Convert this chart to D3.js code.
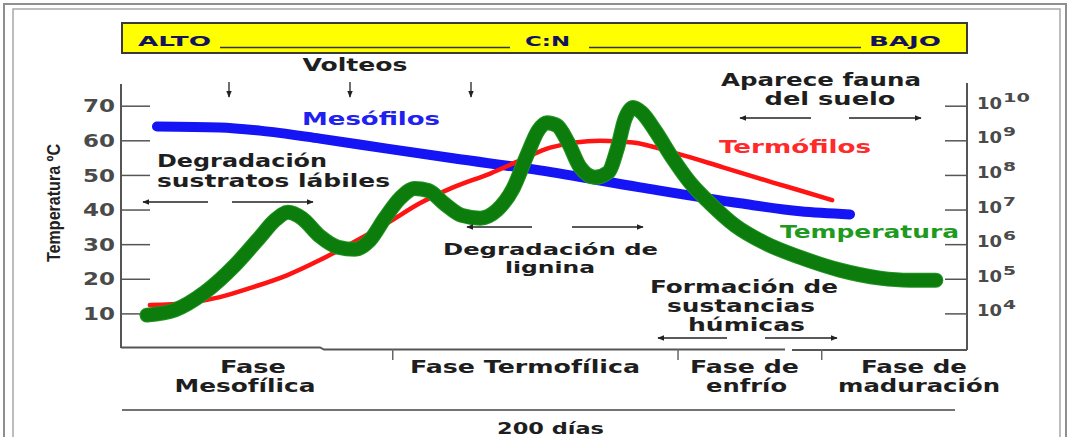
<!DOCTYPE html>
<html>
<head>
<meta charset="utf-8">
<script src="https://cdn.jsdelivr.net/npm/d3@7"></script>
<style>
  body { margin: 0; background: #fff; }
  svg { display: block; }
  text { font-family: "DejaVu Sans", Verdana, sans-serif; font-weight: bold; }
</style>
</head>
<body>
<div class="wrapper"></div>
<script>
// days (x) and temperature / population (y)
var tempTicks = [10, 20, 30, 40, 50, 60, 70];
var popTicks = [4, 5, 6, 7, 8, 9, 10];   // exponents of 10

var mesofilos = [
  [8.4, 64.0], [23.5, 63.7], [33.1, 62.8], [47.5, 60.5], [63.6, 57.6],
  [79.5, 54.8], [100.4, 51.3], [124.4, 46.4], [148.4, 41.8], [162.8, 39.5], [174.8, 38.6]
];
var termofilos = [
  [6.7, 12.4], [15.6, 13.0], [23.5, 14.7], [31.5, 17.6], [39.6, 21.0], [47.5, 25.4],
  [55.5, 30.5], [63.6, 36.0], [71.5, 41.8], [79.5, 46.4], [88.4, 50.4], [95.6, 54.2],
  [102.8, 57.9], [114.8, 59.9], [122.7, 59.4], [132.3, 56.5], [144.3, 52.2],
  [156.3, 47.8], [162.8, 45.5], [170.5, 42.7]
];
var temperatura = [
  [6.0, 9.5], [12.7, 11.0], [19.9, 16.1], [27.1, 23.9], [33.1, 32.0], [36.7, 36.9],
  [39.9, 39.2], [43.2, 37.5], [47.5, 32.3], [51.9, 29.1], [55.9, 28.5], [59.5, 31.1],
  [63.1, 37.5], [66.7, 43.2], [70.3, 46.1], [73.5, 45.5], [77.6, 41.5], [81.6, 38.3],
  [86.0, 37.5], [90.0, 39.8], [93.9, 46.1], [97.2, 55.6], [99.9, 62.8], [102.0, 65.1],
  [104.4, 64.3], [107.1, 59.4], [110.0, 52.2], [113.6, 49.3], [116.7, 50.7], [118.8, 57.1],
  [120.8, 66.3], [122.7, 69.5], [124.8, 68.0], [128.0, 62.8], [132.1, 55.0], [136.4, 47.8],
  [141.2, 41.8], [147.2, 35.4], [154.4, 30.3], [162.8, 26.2], [172.4, 22.5], [182.0, 20.2],
  [189.2, 19.6], [195.4, 19.6]
];
var phaseTicks = [65, 133.5, 168];   // day where each phase ends

var W = 1070, H = 437;
var svg = d3.select(".wrapper").append("svg")
  .attr("width", W)
  .attr("height", H);

var x = d3.scaleLinear().domain([0, 200]).range([122, 955]);
var y = d3.scaleLinear().domain([0, 70]).range([348, 105.7]);
var yPop = d3.scaleLog().domain([1e4, 1e10]).range([y(10), y(70)]);

// frame
svg.append("rect").attr("x", 4).attr("y", 4).attr("width", 1062).attr("height", 445)
  .attr("fill", "none").attr("stroke", "#8f8f8f").attr("stroke-width", 2);
svg.append("rect").attr("x", 13).attr("y", 9).attr("width", 1047).attr("height", 440)
  .attr("fill", "none").attr("stroke", "#a8a8a8").attr("stroke-width", 1.5);

// arrow head
svg.append("defs").append("marker")
  .attr("id", "head")
  .attr("viewBox", "0 0 10 10")
  .attr("refX", 9).attr("refY", 5)
  .attr("markerWidth", 7).attr("markerHeight", 7)
  .attr("markerUnits", "userSpaceOnUse")
  .attr("orient", "auto")
  .append("path").attr("d", "M0,1 L10,5 L0,9 Z").attr("fill", "#222");

// yellow C:N bar
svg.append("rect").attr("x", 122).attr("y", 23).attr("width", 845).attr("height", 30)
  .attr("fill", "#ffff00").attr("stroke", "#3a3a3a").attr("stroke-width", 2);
[[220, 510], [589, 861]].forEach(function(s) {
  svg.append("line").attr("x1", s[0]).attr("x2", s[1]).attr("y1", 47.5).attr("y2", 47.5)
    .attr("stroke", "#333").attr("stroke-width", 1.3);
});

function label(t, px, py, len, opt) {
  opt = opt || {};
  return svg.append("text")
    .attr("x", px).attr("y", py)
    .attr("font-size", opt.size || 16)
    .attr("fill", opt.fill || "#1e1e1e")
    .attr("text-anchor", opt.anchor || "start")
    .attr("textLength", len)
    .attr("lengthAdjust", "spacingAndGlyphs")
    .text(t);
}
function arrow(x1, y1, x2, y2) {
  svg.append("line").attr("x1", x1).attr("y1", y1).attr("x2", x2).attr("y2", y2)
    .attr("stroke", "#222").attr("stroke-width", 1.3)
    .attr("marker-end", "url(#head)");
}

label("ALTO", 138, 46, 73, {size: 14, fill: "#14145e"});
label("C:N", 525, 46, 45, {size: 14, fill: "#14145e"});
label("BAJO", 869, 46, 72, {size: 14, fill: "#14145e"});

// axes
var gl = svg.append("g").attr("transform", "translate(121,0)");
gl.call(d3.axisLeft(y).tickValues(tempTicks).tickSizeInner(-29).tickSizeOuter(0).tickPadding(6));
gl.select(".domain").remove();
gl.selectAll(".tick line").attr("stroke", "#555").attr("stroke-width", 1.5);
gl.selectAll(".tick text")
  .attr("font-family", "DejaVu Sans").attr("font-weight", "bold")
  .attr("font-size", 17).attr("fill", "#4a4a4a")
  .attr("dy", "0.36em")
  .attr("textLength", 32).attr("lengthAdjust", "spacingAndGlyphs");

var gr = svg.append("g").attr("transform", "translate(967,0)");
gr.call(d3.axisRight(yPop).tickValues(popTicks.map(function(e) { return Math.pow(10, e); }))
  .tickSizeInner(-22).tickSizeOuter(0).tickFormat(""));
gr.select(".domain").remove();
gr.selectAll(".tick line").attr("stroke", "#555").attr("stroke-width", 1.5);

svg.selectAll(".poplab").data(popTicks).enter().append("text")
  .attr("class", "poplab")
  .attr("x", 977).attr("y", function(d) { return yPop(Math.pow(10, d)) + 3; })
  .attr("font-size", 15).attr("fill", "#4a4a4a")
  .attr("textLength", 25).attr("lengthAdjust", "spacingAndGlyphs")
  .text("10");
svg.selectAll(".popexp").data(popTicks).enter().append("text")
  .attr("class", "popexp")
  .attr("x", 1003).attr("y", function(d) { return yPop(Math.pow(10, d)) - 4; })
  .attr("font-size", 12).attr("fill", "#4a4a4a")
  .attr("textLength", function(d) { return String(d).length > 1 ? 27 : 13; })
  .attr("lengthAdjust", "spacingAndGlyphs")
  .text(function(d) { return d; });

svg.append("path")
  .attr("d", "M121,84 V348 M967,83 V350")
  .attr("stroke", "#555").attr("stroke-width", 2).attr("fill", "none");
svg.append("path")
  .attr("d", "M121,347.5 H320 L324,349.5 H785 M792,350 H967")
  .attr("stroke", "#555").attr("stroke-width", 1.8).attr("fill", "none");
svg.selectAll(".ptick").data(phaseTicks).enter().append("line")
  .attr("class", "ptick")
  .attr("x1", function(d) { return x(d); }).attr("x2", function(d) { return x(d); })
  .attr("y1", 349).attr("y2", 360)
  .attr("stroke", "#666").attr("stroke-width", 1.5);

svg.append("line").attr("x1", x(0)).attr("x2", x(200)).attr("y1", 410).attr("y2", 410)
  .attr("stroke", "#444").attr("stroke-width", 1.5);

// y axis title
svg.append("text")
  .attr("transform", "translate(60,203) rotate(-90)")
  .attr("text-anchor", "middle")
  .attr("font-size", 19)
  .attr("fill", "#222")
  .attr("textLength", 118).attr("lengthAdjust", "spacingAndGlyphs")
  .style("font-family", "'Liberation Sans Narrow', 'Arial Narrow', sans-serif")
  .style("font-weight", "bold")
  .text("Temperatura ºC");

// curves
var line = d3.line()
  .x(function(d) { return x(d[0]); })
  .y(function(d) { return y(d[1]); })
  .curve(d3.curveMonotoneX);

svg.append("path").datum(mesofilos).attr("d", line)
  .attr("fill", "none").attr("stroke", "#1414f5").attr("stroke-width", 10)
  .attr("stroke-linecap", "round");
svg.append("path").datum(termofilos).attr("d", line)
  .attr("fill", "none").attr("stroke", "#ff1414").attr("stroke-width", 4.5)
  .attr("stroke-linecap", "round");
svg.append("path").datum(temperatura).attr("d", line)
  .attr("fill", "none").attr("stroke", "#239423").attr("stroke-width", 15)
  .attr("stroke-linecap", "round").attr("stroke-linejoin", "round");
svg.append("path").datum(temperatura).attr("d", line)
  .attr("fill", "none").attr("stroke", "#0c7c0c").attr("stroke-width", 13)
  .attr("stroke-linecap", "round").attr("stroke-linejoin", "round");

// annotations
label("Volteos", 355, 71, 105, {size: 17, anchor: "middle"});
[229, 350, 471].forEach(function(px) { arrow(px, 82, px, 97); });

label("Mesófilos", 302, 125, 138, {size: 17, fill: "#2020f0"});
label("Termófilos", 719, 153, 152, {size: 17, fill: "#ff2a2a"});
label("Temperatura", 780, 238, 179, {size: 17, fill: "#1e9a1e"});

label("Degradación", 157, 167, 170, {size: 17});
label("sustratos lábiles", 157, 187, 233, {size: 17});
arrow(208, 202, 143, 202);
arrow(232, 202, 313, 202);

label("Degradación de", 443, 255, 215, {size: 16});
label("lignina", 550, 273, 90, {size: 16, anchor: "middle"});
arrow(532, 227, 467, 227);
arrow(572, 227, 643, 227);

label("Aparece fauna", 821, 86, 200, {size: 17, anchor: "middle"});
label("del suelo", 830, 105, 131, {size: 17, anchor: "middle"});
arrow(811, 118, 740, 118);
arrow(849, 118, 921, 118);

label("Formación de", 650, 293, 188, {size: 17});
label("sustancias", 667, 312, 148, {size: 17});
label("húmicas", 688, 331, 117, {size: 17});
arrow(727, 338, 658, 338);
arrow(765, 338, 837, 338);

label("Fase", 253, 373, 66, {size: 17, anchor: "middle"});
label("Mesofílica", 245, 392, 141, {size: 17, anchor: "middle"});
label("Fase Termofílica", 410, 373, 230, {size: 17});
label("Fase de", 690, 373, 109, {size: 17});
label("enfrío", 706, 392, 81, {size: 17});
label("Fase de", 861, 373, 106, {size: 17});
label("maduración", 838, 392, 162, {size: 17});

label("200 días", 497, 434, 107, {size: 16});
</script>
</body>
</html>
